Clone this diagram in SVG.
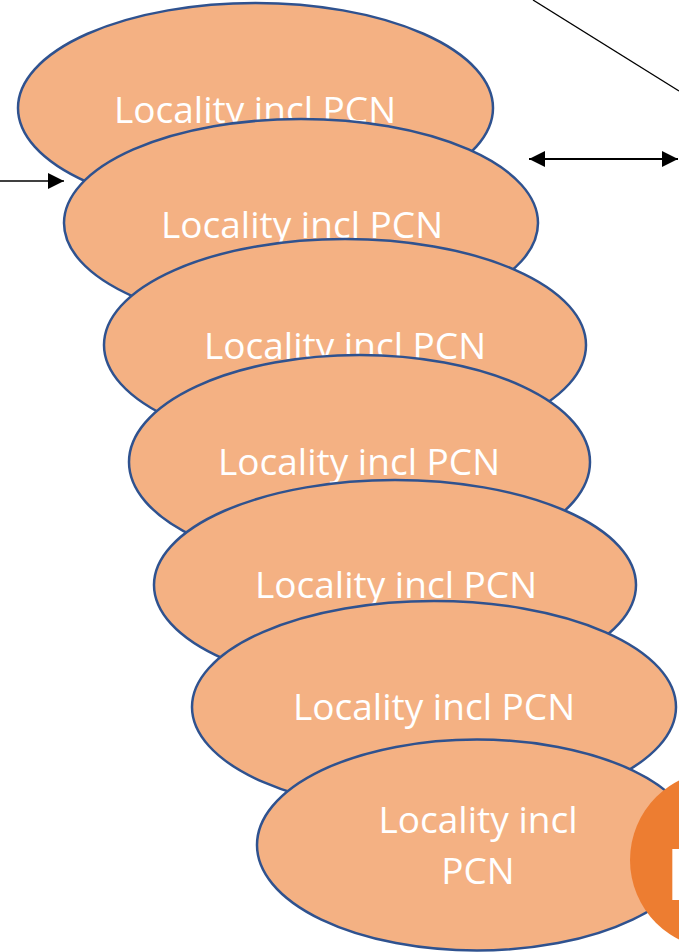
<svg xmlns="http://www.w3.org/2000/svg" width="679" height="952" viewBox="0 0 679 952">
  <style>
    .loc { fill: #F4B183; stroke: #2F528F; stroke-width: 2.5; }
    .lbl { font-family: "Open Sans", "Liberation Sans", sans-serif; font-size: 37px; fill: #FFFFFF; text-anchor: middle; }
    .conn { stroke: #000000; fill: none; }
  </style>
  <defs>
    <marker id="ah" markerUnits="userSpaceOnUse" markerWidth="17" markerHeight="17" refX="16" refY="8.5" orient="auto-start-reverse" viewBox="0 0 17 17">
      <path d="M0,0.5 L16,8.5 L0,16.5 Z" fill="#000000"/>
    </marker>
  </defs>
  <rect width="679" height="952" fill="#FFFFFF"/>

  <g id="connectors">
    <line class="conn" x1="533" y1="0" x2="679" y2="91" stroke-width="1.3"/>
    <line class="conn" x1="529" y1="159" x2="678" y2="159" stroke-width="1.8" marker-start="url(#ah)" marker-end="url(#ah)"/>
    <line class="conn" x1="0" y1="181" x2="64" y2="181" stroke-width="1.4" marker-end="url(#ah)"/>
  </g>

  <g id="locality-1">
    <ellipse class="loc" cx="255.5" cy="108" rx="237.5" ry="105"/>
    <text class="lbl" x="255" y="123">Locality incl PCN</text>
  </g>
  <g id="locality-2">
    <ellipse class="loc" cx="301" cy="223" rx="237" ry="104"/>
    <text class="lbl" x="302" y="238">Locality incl PCN</text>
  </g>
  <g id="locality-3">
    <ellipse class="loc" cx="345" cy="345" rx="241" ry="106"/>
    <text class="lbl" x="345" y="359">Locality incl PCN</text>
  </g>
  <g id="locality-4">
    <ellipse class="loc" cx="359.5" cy="462" rx="230.5" ry="107"/>
    <text class="lbl" x="359" y="475">Locality incl PCN</text>
  </g>
  <g id="locality-5">
    <ellipse class="loc" cx="395" cy="585" rx="241" ry="105"/>
    <text class="lbl" x="396" y="598">Locality incl PCN</text>
  </g>
  <g id="locality-6">
    <ellipse class="loc" cx="434" cy="707" rx="242" ry="106"/>
    <text class="lbl" x="434" y="720">Locality incl PCN</text>
  </g>
  <g id="locality-7">
    <ellipse class="loc" cx="477" cy="845" rx="220" ry="105.5"/>
    <text class="lbl" x="478" y="833">Locality incl</text>
    <text class="lbl" x="478" y="884">PCN</text>
  </g>

  <g id="orange-node">
    <circle cx="719" cy="860" r="89" fill="#ED7D31"/>
    <text x="666" y="900" font-family="Open Sans, Liberation Sans, sans-serif" font-size="71" font-weight="bold" fill="#FFFFFF">P</text>
  </g>
</svg>
